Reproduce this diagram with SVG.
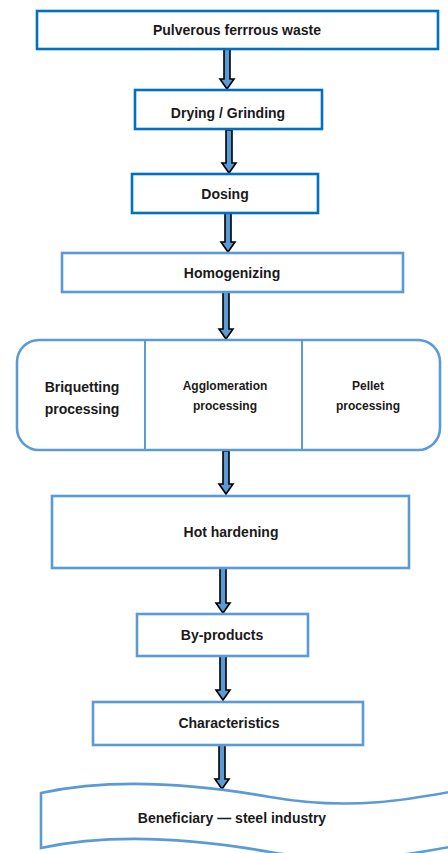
<svg xmlns="http://www.w3.org/2000/svg" width="448" height="853" viewBox="0 0 448 853">
<style>
.box{fill:#fff;stroke:#5B9BD5;stroke-width:2.6}
.dark{stroke:#0070C0}
.t{font-family:"Liberation Sans",Arial,sans-serif;font-weight:bold;font-size:14px;fill:#1a1a1a;text-anchor:middle}
.s{font-size:12px}
.arr{fill:#5B9BD5;stroke:#000;stroke-width:1.6;stroke-linejoin:miter}
</style>
<rect width="448" height="853" fill="#fff"/>
<g id="connectors">
<polygon class="arr" points="224,49 230,49 230,79 234,79 227,89 220,79 224,79"/>
<polygon class="arr" points="226,130 232,130 232,163 236,163 229,173 222,163 226,163"/>
<polygon class="arr" points="225,213 231,213 231,242 235,242 228,252 221,242 225,242"/>
<polygon class="arr" points="223,292 229,292 229,329 233,329 226,339 219,329 223,329"/>
<polygon class="arr" points="223,451 229,451 229,484 233,484 226,494 219,484 223,484"/>
<polygon class="arr" points="220,568 226,568 226,603 230,603 223,613 216,603 220,603"/>
<polygon class="arr" points="220,656 226,656 226,690 230,690 223,700 216,690 220,690"/>
<polygon class="arr" points="219,745 225,745 225,779 229,779 222,789 215,779 219,779"/>
</g>
<g id="n1"><rect class="box dark" x="37" y="11" width="401" height="38"/><text class="t" x="237" y="35">Pulverous ferrrous waste</text></g>
<g id="n2"><rect class="box dark" x="135" y="90" width="187" height="39"/><text class="t" x="228" y="118">Drying / Grinding</text></g>
<g id="n3"><rect class="box dark" x="132" y="174" width="186" height="39"/><text class="t" x="225" y="199">Dosing</text></g>
<g id="n4"><rect class="box" x="62" y="253" width="341" height="39"/><text class="t" x="232" y="278">Homogenizing</text></g>
<g id="n5">
<rect class="box" x="17" y="340" width="423" height="110" rx="22"/>
<line x1="145" y1="340" x2="145" y2="450" stroke="#5B9BD5" stroke-width="2"/>
<line x1="302" y1="340" x2="302" y2="450" stroke="#5B9BD5" stroke-width="2"/>
<text class="t" x="82" y="392">Briquetting</text>
<text class="t" x="82" y="414">processing</text>
<text class="t s" x="225" y="390">Agglomeration</text>
<text class="t s" x="225" y="410">processing</text>
<text class="t s" x="368" y="390">Pellet</text>
<text class="t s" x="368" y="410">processing</text>
</g>
<g id="n6"><rect class="box" x="52" y="496" width="357" height="72"/><text class="t" x="231" y="537">Hot hardening</text></g>
<g id="n7"><rect class="box" x="137" y="614" width="171" height="42"/><text class="t" x="222" y="640">By-products</text></g>
<g id="n8"><rect class="box" x="93" y="702" width="270" height="43"/><text class="t" x="229" y="728">Characteristics</text></g>
<g id="n9">
<path class="box" d="M41,793 C110,778 190,783 270,797 C350,811 410,800 470,788 L470,843 C410,855 350,866 270,852 C190,838 110,833 41,848 Z"/>
<text class="t" x="232" y="823">Beneficiary — steel industry</text>
</g>
</svg>
